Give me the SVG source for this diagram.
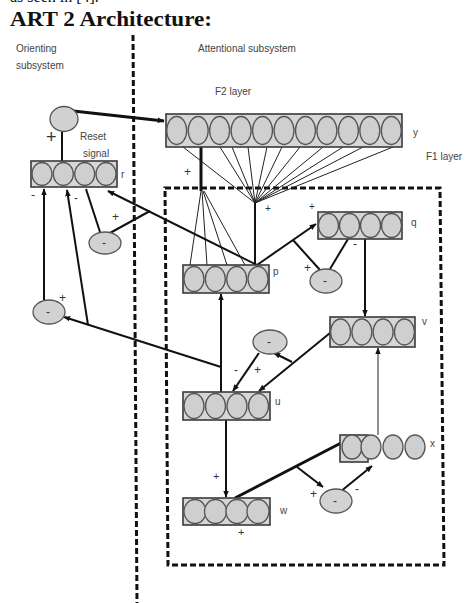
<svg xmlns="http://www.w3.org/2000/svg" width="469" height="603" viewBox="0 0 469 603">
<style>
.box{fill:#d6d6d6;stroke:#3a3a3a;stroke-width:1.6}
.cell{fill:#cfcfcf;stroke:#555;stroke-width:1.3}
.circ{fill:#d2d2d2;stroke:#555;stroke-width:1.3}
.lbl{font-family:"Liberation Sans",Arial,sans-serif;font-size:10px;fill:#444}
.sym{font-family:"Liberation Sans",Arial,sans-serif;font-size:12px;fill:#333}
.ln{stroke:#111;stroke-width:2;fill:none}
.thk{stroke:#111;stroke-width:3;fill:none}
.thin{stroke:#222;stroke-width:1;fill:none}
.dash{stroke:#111;stroke-width:3;fill:none;stroke-dasharray:6 3}
</style>
<defs>
<marker id="ah2" viewBox="0 0 10 10" refX="9" refY="5" markerWidth="7" markerHeight="7" orient="auto" markerUnits="userSpaceOnUse">
<path d="M0,1 L10,5 L0,9 z" fill="#111"/>
</marker>
</defs>
<rect width="469" height="603" fill="#fff"/>
<text x="10" y="1.5" font-family="Liberation Serif,serif" font-size="16" fill="#111">as seen in [4].</text>
<text x="10" y="26" font-family="Liberation Serif,serif" font-size="20" font-weight="bold" fill="#111" textLength="202" lengthAdjust="spacingAndGlyphs">ART 2 Architecture:</text>

<g id="dividers">
<path class="dash" d="M133,35 L137,603"/>
<path class="dash" d="M165,188 L440,188 L444,565 L168,565 Z" stroke-width="2.5" stroke-dasharray="5 2.5"/>
</g>

<g id="labels">
<text class="lbl" x="16" y="52">Orienting</text>
<text class="lbl" x="16" y="69">subsystem</text>
<text class="lbl" x="198" y="52">Attentional subsystem</text>
<text class="lbl" x="215" y="95">F2 layer</text>
<text class="lbl" x="426" y="160">F1 layer</text>
<text class="lbl" x="80" y="140">Reset</text>
<text class="lbl" x="83" y="157">signal</text>
</g>

<g id="connectors">
<line class="thk" x1="64" y1="110" x2="164" y2="121" marker-end="url(#ah2)"/>
<line class="ln" x1="62" y1="132" x2="62" y2="161"/>
<g class="thin" stroke-width="1.6">
<line x1="183" y1="147" x2="255" y2="203"/>
<line x1="220" y1="147" x2="255" y2="203"/>
<line x1="232" y1="147" x2="255" y2="203"/>
<line x1="248" y1="147" x2="255" y2="203"/>
<line x1="267" y1="147" x2="255" y2="203"/>
<line x1="282" y1="147" x2="255" y2="203"/>
<line x1="300" y1="147" x2="255" y2="203"/>
<line x1="323" y1="147" x2="255" y2="203"/>
<line x1="343" y1="147" x2="255" y2="203"/>
<line x1="363" y1="147" x2="255" y2="203"/>
<line x1="393" y1="147" x2="255" y2="203"/>
</g>
<line class="ln" x1="255" y1="203" x2="255" y2="265"/>
<line class="thk" x1="201" y1="147" x2="201" y2="191"/>
<g class="thin">
<line x1="201" y1="191" x2="190" y2="265"/>
<line x1="202" y1="191" x2="207" y2="265"/>
<line x1="203" y1="191" x2="227" y2="265"/>
<line x1="204" y1="191" x2="245" y2="265"/>
</g>
<line class="ln" x1="257" y1="265" x2="108" y2="191" marker-end="url(#ah2)"/>
<line class="ln" x1="150" y1="211" x2="110" y2="233"/>
<line class="ln" x1="86" y1="189" x2="100" y2="232"/>
<line class="ln" x1="257" y1="265" x2="316" y2="224" marker-end="url(#ah2)"/>
<line class="ln" x1="293" y1="240" x2="320" y2="270"/>
<line class="ln" x1="348" y1="239" x2="330" y2="269"/>
<line class="ln" x1="365" y1="239" x2="365" y2="316" marker-end="url(#ah2)"/>
<line class="thin" stroke-width="1.3" x1="378" y1="435" x2="378" y2="348" marker-end="url(#ah2)"/>
<line class="ln" x1="330" y1="333" x2="259" y2="391" marker-end="url(#ah2)"/>
<line class="ln" x1="292" y1="362" x2="274" y2="353" marker-end="url(#ah2)"/>
<line class="ln" x1="259" y1="353" x2="233" y2="391" marker-end="url(#ah2)"/>
<line class="ln" x1="221" y1="392" x2="221" y2="294" marker-end="url(#ah2)"/>
<line class="ln" x1="221" y1="367" x2="64" y2="317" marker-end="url(#ah2)"/>
<line class="ln" x1="88" y1="325" x2="67" y2="190" marker-end="url(#ah2)"/>
<line class="ln" x1="44" y1="300" x2="44" y2="189" marker-end="url(#ah2)"/>
<line class="ln" x1="226" y1="420" x2="226" y2="497" marker-end="url(#ah2)"/>
<line class="thk" x1="235" y1="498" x2="341" y2="443"/>
<line class="ln" x1="297" y1="467" x2="323" y2="487" marker-end="url(#ah2)"/>
<line class="ln" x1="340" y1="492" x2="372" y2="466" marker-end="url(#ah2)"/>
</g>

<g id="node-reset">
<ellipse class="circ" cx="64" cy="119" rx="14" ry="12.5"/>
</g>
<g id="node-y">
<rect class="box" x="166" y="114" width="236" height="33"/>
<ellipse class="cell" cx="176.7" cy="130.5" rx="10" ry="14"/>
<ellipse class="cell" cx="198.2" cy="130.5" rx="10" ry="14"/>
<ellipse class="cell" cx="219.6" cy="130.5" rx="10" ry="14"/>
<ellipse class="cell" cx="241.1" cy="130.5" rx="10" ry="14"/>
<ellipse class="cell" cx="262.5" cy="130.5" rx="10" ry="14"/>
<ellipse class="cell" cx="284" cy="130.5" rx="10" ry="14"/>
<ellipse class="cell" cx="305.5" cy="130.5" rx="10" ry="14"/>
<ellipse class="cell" cx="326.9" cy="130.5" rx="10" ry="14"/>
<ellipse class="cell" cx="348.4" cy="130.5" rx="10" ry="14"/>
<ellipse class="cell" cx="369.8" cy="130.5" rx="10" ry="14"/>
<ellipse class="cell" cx="391.3" cy="130.5" rx="10" ry="14"/>
<text class="lbl" x="413" y="136" font-size="15">y</text>
</g>
<g id="node-r">
<rect class="box" x="31" y="161" width="86" height="26"/>
<ellipse class="cell" cx="42" cy="174" rx="10" ry="11.5"/>
<ellipse class="cell" cx="63.3" cy="174" rx="10" ry="11.5"/>
<ellipse class="cell" cx="84.7" cy="174" rx="10" ry="11.5"/>
<ellipse class="cell" cx="106" cy="174" rx="10" ry="11.5"/>
<text class="lbl" x="121" y="178" font-size="11">r</text>
</g>
<g id="node-c1">
<ellipse class="circ" cx="105" cy="243" rx="16" ry="11"/>
<text class="sym" x="102" y="247">-</text>
</g>
<g id="node-c2">
<ellipse class="circ" cx="49" cy="312" rx="16" ry="12"/>
<text class="sym" x="46" y="316">-</text>
</g>
<g id="node-p">
<rect class="box" x="183" y="265" width="86" height="28"/>
<ellipse class="cell" cx="194" cy="279" rx="10" ry="12.5"/>
<ellipse class="cell" cx="215.3" cy="279" rx="10" ry="12.5"/>
<ellipse class="cell" cx="236.7" cy="279" rx="10" ry="12.5"/>
<ellipse class="cell" cx="258" cy="279" rx="10" ry="12.5"/>
<text class="lbl" x="273" y="275" font-size="11">p</text>
</g>
<g id="node-q">
<rect class="box" x="318" y="212" width="84" height="27"/>
<ellipse class="cell" cx="328.5" cy="225.5" rx="10" ry="12"/>
<ellipse class="cell" cx="349.5" cy="225.5" rx="10" ry="12"/>
<ellipse class="cell" cx="370.5" cy="225.5" rx="10" ry="12"/>
<ellipse class="cell" cx="391.5" cy="225.5" rx="10" ry="12"/>
<text class="lbl" x="411" y="226" font-size="11">q</text>
</g>
<g id="node-c3">
<ellipse class="circ" cx="326" cy="281" rx="16" ry="12"/>
<text class="sym" x="323" y="285">-</text>
</g>
<g id="node-v">
<rect class="box" x="330" y="317" width="85" height="30"/>
<ellipse class="cell" cx="340.6" cy="332" rx="10" ry="13"/>
<ellipse class="cell" cx="361.9" cy="332" rx="10" ry="13"/>
<ellipse class="cell" cx="383.1" cy="332" rx="10" ry="13"/>
<ellipse class="cell" cx="404.4" cy="332" rx="10" ry="13"/>
<text class="lbl" x="422" y="325" font-size="10">v</text>
</g>
<g id="node-c4">
<ellipse class="circ" cx="270" cy="342" rx="17" ry="12"/>
<text class="sym" x="267" y="346">-</text>
</g>
<g id="node-u">
<rect class="box" x="183" y="392" width="87" height="28"/>
<ellipse class="cell" cx="194" cy="406" rx="10" ry="12.5"/>
<ellipse class="cell" cx="215.5" cy="406" rx="10" ry="12.5"/>
<ellipse class="cell" cx="237" cy="406" rx="10" ry="12.5"/>
<ellipse class="cell" cx="258.5" cy="406" rx="10" ry="12.5"/>
<text class="lbl" x="275" y="405" font-size="11">u</text>
</g>
<g id="node-x">
<rect class="box" x="340" y="435" width="28" height="27"/>
<ellipse class="cell" cx="352" cy="447" rx="10" ry="12"/>
<ellipse class="cell" cx="371" cy="447" rx="10" ry="12"/>
<ellipse class="cell" cx="393" cy="447" rx="10" ry="12"/>
<ellipse class="cell" cx="415" cy="447" rx="10" ry="12"/>
<text class="lbl" x="430" y="447" font-size="10">x</text>
</g>
<g id="node-c5">
<ellipse class="circ" cx="336" cy="501" rx="16" ry="12"/>
<text class="sym" x="333" y="505">-</text>
</g>
<g id="node-w">
<rect class="box" x="183" y="498" width="87" height="27"/>
<ellipse class="cell" cx="195" cy="511.5" rx="11" ry="12"/>
<ellipse class="cell" cx="215.5" cy="511.5" rx="11" ry="12"/>
<ellipse class="cell" cx="237" cy="511.5" rx="11" ry="12"/>
<ellipse class="cell" cx="258" cy="511.5" rx="11" ry="12"/>
<text class="lbl" x="280" y="514" font-size="10">w</text>
</g>

<g id="signs" class="sym">
<text x="46" y="143" font-size="18">+</text>
<text x="31" y="199">-</text>
<text x="74" y="202">-</text>
<text x="112" y="221">+</text>
<text x="59" y="302">+</text>
<text x="184" y="176">+</text>
<text x="265" y="212" font-size="10">+</text>
<text x="309" y="210" font-size="10">+</text>
<text x="304" y="272">+</text>
<text x="353" y="248">-</text>
<text x="234" y="374">-</text>
<text x="254" y="374">+</text>
<text x="213" y="480" font-size="11">+</text>
<text x="238" y="536" font-size="11">+</text>
<text x="310" y="498">+</text>
<text x="355" y="493">-</text>
</g>
</svg>
